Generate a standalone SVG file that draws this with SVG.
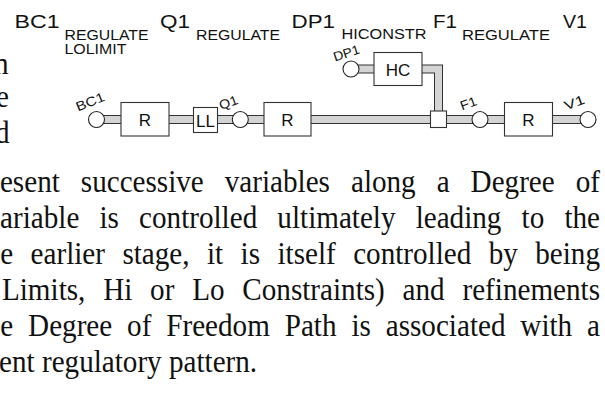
<svg xmlns="http://www.w3.org/2000/svg" width="605" height="394" viewBox="0 0 605 394">
<style>
.bg{fill:#ffffff}
.po{fill:none;stroke:#333333;stroke-width:9;stroke-linejoin:miter}
.pi{fill:none;stroke:#d4d4d4;stroke-width:7;stroke-linejoin:miter}
.box{fill:#ffffff;stroke:#333333;stroke-width:1.1}
.port{fill:#ffffff;stroke:#222222;stroke-width:1.1}
.sans{font-family:"Liberation Sans",Arial,sans-serif;fill:#111111}
.big{font-size:19px}
.sub{font-size:14px}
.blab{font-size:17px;text-anchor:middle}
.plab{font-size:13px}
.body{font-family:"Liberation Serif","Times New Roman",serif;font-size:31px;fill:#111111}
</style>
<rect class="bg" x="0" y="0" width="605" height="394"/>

<g id="header-labels" class="sans">
  <text class="big" x="14.5" y="27.5" textLength="45" lengthAdjust="spacingAndGlyphs">BC1</text>
  <text class="sub" x="64.5" y="39.5" textLength="84" lengthAdjust="spacingAndGlyphs">REGULATE</text>
  <text class="sub" x="64.5" y="53.5" textLength="62" lengthAdjust="spacingAndGlyphs">LOLIMIT</text>
  <text class="big" x="160" y="27.5" textLength="30" lengthAdjust="spacingAndGlyphs">Q1</text>
  <text class="sub" x="196" y="39.5" textLength="84" lengthAdjust="spacingAndGlyphs">REGULATE</text>
  <text class="big" x="291.5" y="27.5" textLength="43.5" lengthAdjust="spacingAndGlyphs">DP1</text>
  <text class="sub" x="341.5" y="38.5" textLength="85" lengthAdjust="spacingAndGlyphs">HICONSTR</text>
  <text class="big" x="433" y="27.5" textLength="24" lengthAdjust="spacingAndGlyphs">F1</text>
  <text class="sub" x="462" y="39.5" textLength="88" lengthAdjust="spacingAndGlyphs">REGULATE</text>
  <text class="big" x="563" y="27.5" textLength="24" lengthAdjust="spacingAndGlyphs">V1</text>
</g>

<g id="connectors">
  <path class="po" d="M96.5,119.5 H588"/>
  <path class="po" d="M351,69 H438.5 V112"/>
  <path class="pi" d="M96.5,119.5 H588"/>
  <path class="pi" d="M351,69 H438.5 V112"/>
</g>

<g id="node-BC1">
  <circle class="port" cx="96.5" cy="119.5" r="8"/>
  <text class="sans plab" transform="translate(78,111.5) rotate(-22)" textLength="30" lengthAdjust="spacingAndGlyphs">BC1</text>
</g>
<g id="node-R1">
  <rect class="box" x="121" y="102.5" width="48" height="33.5"/>
  <text class="sans blab" x="145" y="125.5">R</text>
</g>
<g id="node-LL">
  <rect class="box" x="193.5" y="107.5" width="24" height="25"/>
  <text class="sans blab" x="205.5" y="126.5">LL</text>
</g>
<g id="node-Q1">
  <circle class="port" cx="240.3" cy="119.5" r="8"/>
  <text class="sans plab" transform="translate(221,110) rotate(-20)" textLength="19" lengthAdjust="spacingAndGlyphs">Q1</text>
</g>
<g id="node-R2">
  <rect class="box" x="264" y="102.5" width="47" height="33.5"/>
  <text class="sans blab" x="287.5" y="125.5">R</text>
</g>
<g id="node-DP1">
  <circle class="port" cx="351" cy="69" r="8"/>
  <text class="sans plab" transform="translate(335,61.5) rotate(-18)" textLength="27" lengthAdjust="spacingAndGlyphs">DP1</text>
</g>
<g id="node-HC">
  <rect class="box" x="374" y="52.5" width="48" height="33"/>
  <text class="sans blab" x="398" y="75.5">HC</text>
</g>
<g id="node-junction">
  <rect class="box" x="430.5" y="111" width="16" height="16.5"/>
</g>
<g id="node-F1">
  <circle class="port" cx="480" cy="119.5" r="8"/>
  <text class="sans plab" transform="translate(462,110.5) rotate(-20)" textLength="17" lengthAdjust="spacingAndGlyphs">F1</text>
</g>
<g id="node-R3">
  <rect class="box" x="504.5" y="102.5" width="48" height="33.5"/>
  <text class="sans blab" x="528.5" y="125.5">R</text>
</g>
<g id="node-V1">
  <circle class="port" cx="588" cy="119.5" r="8"/>
  <text class="sans plab" transform="translate(566,110.5) rotate(-20)" textLength="21" lengthAdjust="spacingAndGlyphs">V1</text>
</g>

<g id="body-text" class="body" transform="scale(0.94,1)">
  <text x="-6.5" y="74">n</text>
  <text x="-4.3" y="107">e</text>
  <text x="-5.3" y="143">d</text>
  <text x="638.3" y="192" text-anchor="end" word-spacing="14.6">esent successive variables along a Degree of</text>
  <text x="638.3" y="228" text-anchor="end" word-spacing="13.7">ariable is controlled ultimately leading to the</text>
  <text x="638.3" y="264" text-anchor="end" word-spacing="10.8">e earlier stage, it is itself controlled by being</text>
  <text x="638.3" y="300" text-anchor="end" word-spacing="11.2">Limits, Hi or Lo Constraints) and refinements</text>
  <text x="638.3" y="336" text-anchor="end" word-spacing="8.1">e Degree of Freedom Path is associated with a</text>
  <text x="-1" y="372">ent regulatory pattern.</text>
</g>
</svg>
